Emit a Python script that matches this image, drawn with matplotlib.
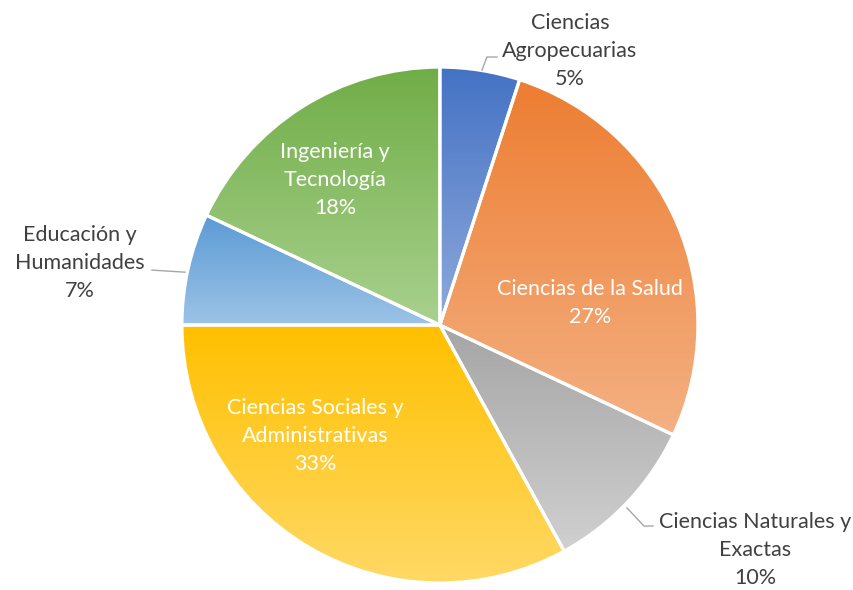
import matplotlib
matplotlib.use("Agg")
import matplotlib.pyplot as plt
import numpy as np
from matplotlib.colors import LinearSegmentedColormap

# datos
labels = ['Ciencias\nAgropecuarias', 'Ciencias de la Salud', 'Ciencias Naturales y\nExactas',
          'Ciencias Sociales y\nAdministrativas', 'Educación y\nHumanidades', 'Ingeniería y\nTecnología']
sizes = [5, 27, 10, 33, 7, 18]
top_colors = ['#4472C4', '#ED7D31', '#A5A5A5', '#FFC000', '#5B9BD5', '#70AD47']
bottom_colors = ['#8FAADC', '#F4B183', '#D0D0D0', '#FFD966', '#9DC3E6', '#A9D18E']

# posiciones de las etiquetas (coords del eje, radio = 1)
label_pos = [(0.504, 1.062), (0.581, 0.085), (1.221, -0.872),
             (-0.484, -0.430), (-1.395, 0.240), (-0.407, 0.562)]
inside = [False, True, False, True, False, True]
leaders = {0: [(0.163, 0.988), (0.182, 1.039), (0.221, 1.039)],
           2: [(0.725, -0.709), (0.791, -0.779), (0.826, -0.779)],
           4: [(-0.988, 0.205), (-1.116, 0.213)]}

plt.rcParams['font.family'] = ['Lato', 'DejaVu Sans']

fig = plt.figure(figsize=(8.54, 5.90), dpi=100)
ax = fig.add_axes([0, 0, 1, 1])

wedges, _ = ax.pie(sizes, startangle=90, counterclock=False, radius=1,
                   wedgeprops=dict(edgecolor='white', linewidth=2.3))

for i, w in enumerate(wedges):
    w.set_facecolor('none')
    w.set_zorder(3)
    # gradiente vertical dentro de cada porción
    verts = w.get_path().vertices
    x0, x1 = verts[:, 0].min(), verts[:, 0].max()
    y0, y1 = verts[:, 1].min(), verts[:, 1].max()
    cmap = LinearSegmentedColormap.from_list('g%d' % i, [bottom_colors[i], top_colors[i]])
    grad = np.linspace(0, 1, 256).reshape(-1, 1)
    im = ax.imshow(grad, extent=(x0, x1, y0, y1), origin='lower', cmap=cmap,
                   aspect='auto', zorder=2)
    im.set_clip_path(w)

for i, lab in enumerate(labels):
    pct = '%d%%' % sizes[i]
    x, y = label_pos[i]
    ax.text(x, y, lab + '\n' + pct, ha='center', va='center', fontsize=15.5,
            color='white' if inside[i] else '#404040', linespacing=1.5, zorder=5)

for k, pts in leaders.items():
    xs = [p[0] for p in pts]
    ys = [p[1] for p in pts]
    ax.plot(xs, ys, color='#A6A6A6', lw=1.0, zorder=4)

ax.set_xlim(-1.705, 1.605)
ax.set_ylim(-1.027, 1.26)
ax.set_aspect('auto')
ax.axis('off')

plt.savefig('out.png', dpi=100)
